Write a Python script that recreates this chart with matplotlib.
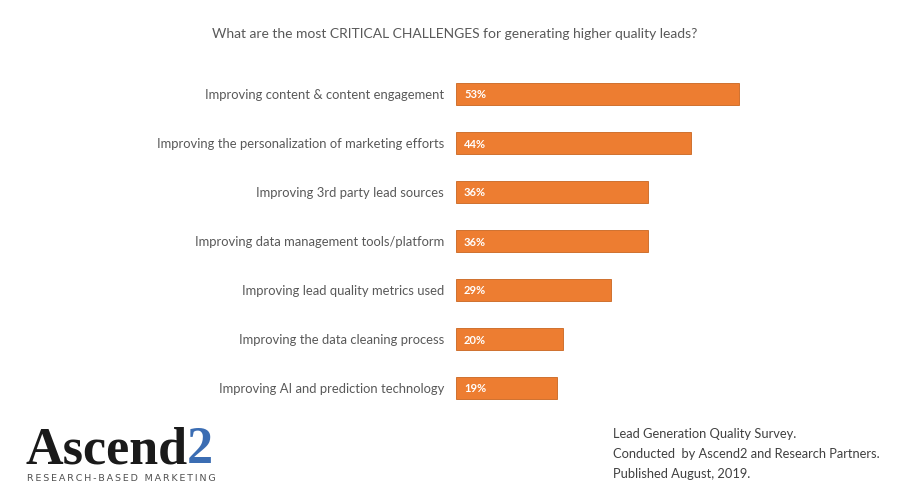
import matplotlib.pyplot as plt

# data
labels = [
    "Improving content & content engagement",
    "Improving the personalization of marketing efforts",
    "Improving 3rd party lead sources",
    "Improving data management tools/platform",
    "Improving lead quality metrics used",
    "Improving the data cleaning process",
    "Improving AI and prediction technology",
]
values = [53, 44, 36, 36, 29, 20, 19]

title = "What are the most CRITICAL CHALLENGES for generating higher quality leads?"
footer = ["Lead Generation Quality Survey.",
          "Conducted  by Ascend2 and Research Partners.",
          "Published August, 2019."]

plt.rcParams['font.family'] = ['Lato', 'DejaVu Sans']
grey = '#595959'
orange = '#ED7D31'

fig = plt.figure(figsize=(9, 4.97), dpi=100)
ax = fig.add_axes([456 / 900, 1 - 412.5 / 497, 320 / 900, 343 / 497])

y = list(range(len(values)))
ax.barh(y, values, height=0.43, color=orange, edgecolor='#c9651f', linewidth=0.6)
ax.set_xlim(0, 60)
ax.set_ylim(len(values) - 0.5, -0.5)
ax.axis('off')

for i, (lab, v) in enumerate(zip(labels, values)):
    ax.text(-12 / 5.34, i, lab, ha='right', va='center_baseline', fontsize=9.4, color=grey)
    ax.text(1.5, i, f"{v}%", ha='left', va='center_baseline', fontsize=8,
            color='white', fontweight='bold')

fig.text(455 / 900, 1 - 33 / 497, title, ha='center', va='center_baseline',
         fontsize=10, color=grey)

for k, line in enumerate(footer):
    fig.text(613 / 900, 1 - (433 + 20 * k) / 497, line, ha='left', va='center_baseline',
             fontsize=9.3, color='#404040')

# logo
r = fig.canvas.get_renderer()
t1 = fig.text(25 / 900, 1 - 463 / 497, "Ascend", ha='left', va='baseline',
              fontsize=37.5, family='Liberation Serif', fontweight='bold', color='#1a1a1a')
x_end = t1.get_window_extent(r).x1 / fig.bbox.width
fig.text(x_end, 1 - 463 / 497, "2", ha='left', va='baseline',
         fontsize=37.5, family='Liberation Serif', fontweight='bold', color='#3b6db3')

# letter-spaced tagline, fitted to 190 px
tag = "\u2009".join("RESEARCH-BASED MARKETING")
t = fig.text(27 / 900, 1 - 481 / 497, tag, ha='left', va='baseline',
             fontsize=7.5, family='DejaVu Sans', color='#505050')
w = t.get_window_extent(r).width
t.set_fontsize(7.5 * 190 / w)

fig.savefig('out.png', dpi=100)
